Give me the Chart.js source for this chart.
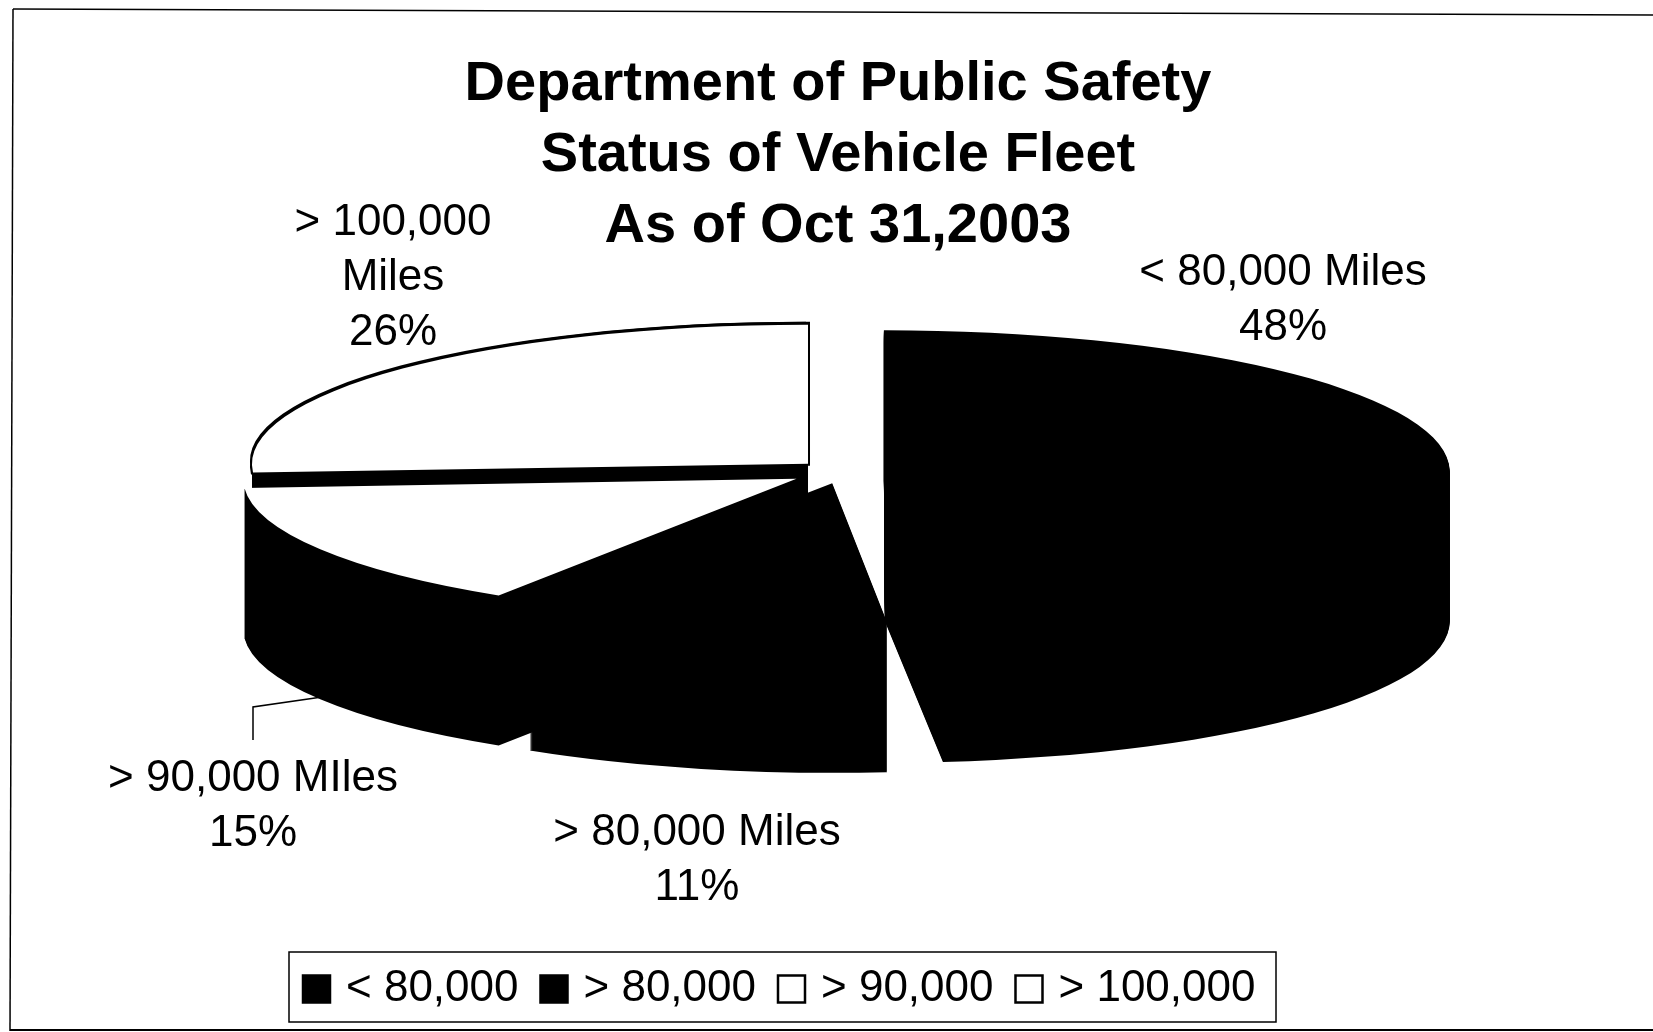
<!DOCTYPE html>
<html>
<head>
<meta charset="utf-8">
<title>Status of Vehicle Fleet</title>
<style>
  html, body { margin: 0; padding: 0; background: #fff; }
  canvas { display: block; }
</style>
<script src="https://cdn.jsdelivr.net/npm/chart.js@4/dist/chart.umd.min.js"></script>
</head>
<body>
<canvas id="fleet" width="1653" height="1032"></canvas>
<script>
// ========== DATA ==========
const categories = ["< 80,000", "> 80,000", "> 90,000", "> 100,000"];
const shares = [48, 11, 15, 26];
const sliceColors = ["#000000", "#000000", "#ffffff", "#ffffff"];
const explode = [168, 184, 216, 192];
const titleLines = ["Department of Public Safety", "Status of Vehicle Fleet", "As of Oct 31,2003"];
const sliceLabels = ["< 80,000 Miles", "> 80,000 Miles", "> 90,000 MIles", "> 100,000"];

// ========== LAYOUT ==========
const FONT = "'Liberation Sans', Arial, sans-serif";
const PIE_X = 843, PIE_Y = 472, TILT = 0.25, DEPTH = 150;
// radius of each slice, the perspective of the original makes them differ a little
const sliceRadius = [528, 542, 543, 556];
// same for the edges, in degrees: foreshortening moves the cut lines of the 3D pie
const startSkew = [-0.7, 1.3, 0, 0];
const endSkew = [1.9, 0.65, 0, 0];
const labelBlocks = [
  { x: 1283, y: 273, lines: [sliceLabels[0], shares[0] + "%"] },
  { x: 697, y: 833, lines: [sliceLabels[1], shares[1] + "%"] },
  { x: 253, y: 779, lines: [sliceLabels[2], shares[2] + "%"] },
  { x: 393, y: 223, lines: [sliceLabels[3], "Miles", shares[3] + "%"] }
];

function drawSlice(ctx, arc, color, dx, dy) {
  ctx.save();
  ctx.translate(PIE_X + dx, PIE_Y + dy);
  ctx.scale(1, TILT);
  ctx.translate(-arc.x, -arc.y);
  const saved = arc.options;
  arc.options = Object.assign({}, saved, { backgroundColor: color });
  arc.draw(ctx);
  arc.options = saved;
  ctx.restore();
}

function line(ctx, points, width) {
  ctx.beginPath();
  points.forEach((p, i) => i ? ctx.lineTo(p[0], p[1]) : ctx.moveTo(p[0], p[1]));
  ctx.lineWidth = width;
  ctx.strokeStyle = "#000";
  ctx.stroke();
}

// squashed, extruded pie: the arcs are the library's own, drawn back to front
const tiltedPie = {
  id: "tiltedPie",
  afterDatasetsUpdate(chart) {
    chart.getDatasetMeta(0).data.forEach((arc, i) => {
      arc.outerRadius = sliceRadius[i];
      arc.startAngle += startSkew[i] * Math.PI / 180;
      arc.endAngle += endSkew[i] * Math.PI / 180;
    });
  },
  beforeDatasetDraw(chart) {
    const ctx = chart.ctx;
    const arcs = chart.getDatasetMeta(0).data;
    [3, 0, 2, 1].forEach(i => {
      for (let d = DEPTH; d > 0; d--) drawSlice(ctx, arcs[i], "#000000", 0, d);
      if (i === 3) {
        [[-2, -3], [2, -3], [-2, 2], [2, 2]].forEach(o => drawSlice(ctx, arcs[i], "#000000", o[0], o[1]));
      }
      drawSlice(ctx, arcs[i], sliceColors[i], 0, 0);
    });
    return false;
  },
  afterLayout(chart) {
    // the scan has the title and the legend off centre from each other
    const t = chart.titleBlock, l = chart.legend;
    t.left = 0; t.right = 1676; t.top = 49;
    l.left = 281; l.right = 1500; l.top = 939; l.bottom = 1024;
  },
  afterDraw(chart) {
    const ctx = chart.ctx;
    ctx.save();
    ctx.fillStyle = "#000";
    ctx.font = "44px " + FONT;
    ctx.textAlign = "center";
    ctx.textBaseline = "middle";
    labelBlocks.forEach(b => b.lines.forEach((t, i) => ctx.fillText(t, b.x, b.y + i * 55)));
    // leader line of the > 90,000 label
    line(ctx, [[253, 740], [253, 707], [322, 697]], 1.5);
    // legend box
    ctx.strokeStyle = "#000";
    ctx.lineWidth = 1.5;
    ctx.strokeRect(289, 952, 987, 70);
    // frame of the scanned page
    line(ctx, [[13, 9], [1653, 15]], 1.5);
    line(ctx, [[13, 9], [10, 1031]], 1.5);
    line(ctx, [[10, 1030], [1653, 1030]], 2);
    ctx.restore();
  }
};

// ========== CHART ==========
new Chart(document.getElementById("fleet"), {
  type: "pie",
  plugins: [tiltedPie],
  data: {
    labels: categories,
    datasets: [{
      data: shares,
      backgroundColor: sliceColors,
      borderWidth: 0,
      offset: explode
    }]
  },
  options: {
    responsive: false,
    animation: false,
    plugins: {
      title: {
        display: true,
        text: titleLines,
        color: "#000",
        font: { family: FONT, size: 56, weight: "bold", lineHeight: 1.27 },
        padding: { top: 0, bottom: 10 }
      },
      legend: {
        display: true,
        position: "bottom",
        align: "start",
        labels: {
          color: "#000",
          font: { family: FONT, size: 44 },
          usePointStyle: true,
          boxWidth: 15,
          boxHeight: 27,
          padding: 28,
          generateLabels(chart) {
            return categories.map((c, i) => ({
              text: c,
              fillStyle: sliceColors[i],
              strokeStyle: "#000",
              lineWidth: 2.5,
              pointStyle: "rect",
              index: i
            }));
          }
        }
      },
      tooltip: { enabled: false }
    }
  }
});
</script>
</body>
</html>
